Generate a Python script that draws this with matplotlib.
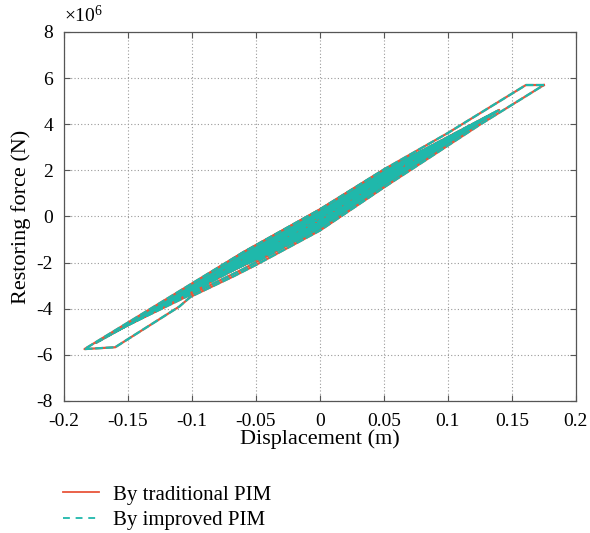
import numpy as np
import matplotlib
matplotlib.use('Agg')
import matplotlib.pyplot as plt
from matplotlib.lines import Line2D

plt.rcParams['font.family'] = ['Liberation Serif', 'DejaVu Serif']
plt.rcParams['mathtext.default'] = 'regular'
plt.rcParams['axes.unicode_minus'] = False

# --- Data ---
# forces are in units of 1e6 N, displacements in m
# inner cycles: positive peak, negative peak, and where each branch crosses
# displacement -0.06, 0 and 0.05 (upper = unloading branch, lower = reloading)
pos_peak_x = [0.06, 0.09, 0.11, 0.13, 0.14, 0.12, 0.135, 0.10, 0.115, 0.125, 0.08, 0.06]
pos_peak_f = [1.98, 2.97, 3.63, 4.29, 4.62, 3.96, 4.46, 3.30, 3.80, 4.13, 2.64, 1.98]
neg_peak_x = [-0.07, -0.10, -0.12, -0.14, -0.165, -0.175, -0.16, -0.13, -0.15, -0.12, -0.09, -0.06]
neg_peak_f = [-2.14, -3.00, -3.66, -4.32, -5.15, -5.48, -4.98, -3.99, -4.65, -3.66, -2.71, -1.85]
cross_x = [-0.06, 0.0, 0.05]
upper_f = [[-1.73, 0.05, 1.80], [-1.63, 0.20, 1.90], [-1.58, 0.28, 2.00],
           [-1.68, 0.15, 1.88], [-1.61, 0.25, 1.98], [-1.78, 0.00, 1.75],
           [-1.65, 0.22, 1.95], [-1.75, 0.08, 1.83], [-1.56, 0.30, 2.02],
           [-1.71, 0.10, 1.85], [-1.81, -0.05, 1.72], [-1.83, -0.10, 1.70]]
lower_f = [[-1.98, -0.30, 1.50], [-2.08, -0.45, 1.38], [-2.13, -0.55, 1.30],
           [-2.03, -0.40, 1.42], [-2.11, -0.58, 1.28], [-1.93, -0.25, 1.55],
           [-2.28, -0.50, 1.35], [-2.01, -0.35, 1.46], [-2.06, -0.52, 1.32],
           [-1.96, -0.20, 1.58], [-1.89, -0.28, 1.52], [-1.88, -0.18, 1.60]]

# outermost loop, traced vertex by vertex
outer_disp = [0.175, 0.161, 0.10, 0.05, 0.0, -0.06, -0.184, -0.160, -0.110, -0.101,
              -0.067, -0.05, 0.0, 0.05, 0.125, 0.175]
outer_force = [5.70, 5.70, 3.62, 2.04, 0.31, -1.55, -5.75, -5.67, -3.91, -3.48,
               -2.58, -2.10, -0.61, 1.26, 3.98, 5.70]

x_ticks = [-0.2, -0.15, -0.1, -0.05, 0, 0.05, 0.1, 0.15, 0.2]
x_tick_labels = ['-0.2', '-0.15', '-0.1', '-0.05', '0', '0.05', '0.1', '0.15', '0.2']
y_ticks = [-8, -6, -4, -2, 0, 2, 4, 6, 8]

RED = '#E8553A'
TEAL = '#1FB8AB'

# chain the inner cycles into one path
path_x, path_f = [0.0], [0.0]
for i in range(len(pos_peak_x)):
    path_x += [pos_peak_x[i]] + cross_x[::-1] + [neg_peak_x[i]] + cross_x
    path_f += [pos_peak_f[i]] + upper_f[i][::-1] + [neg_peak_f[i]] + lower_f[i]

fig = plt.figure(figsize=(5.9, 5.33), dpi=100)
ax = fig.add_axes([0.1085, 0.2477, 0.8675, 0.6923])

dash = (0, (3.5, 1.2))
for xs, fs in [(path_x, path_f), (outer_disp, outer_force)]:
    ax.plot(xs, fs, color=RED, linewidth=1.6)
    ax.plot(xs, fs, color=TEAL, linewidth=1.6, linestyle=dash)

ax.set_xlim(-0.2, 0.2)
ax.set_ylim(-8, 8)
ax.set_xticks(x_ticks)
ax.set_xticklabels(x_tick_labels)
ax.set_yticks(y_ticks)
ax.tick_params(direction='in', top=True, right=True, length=4, labelsize=14,
               color='#555555')
ax.tick_params(axis='y', pad=8)
ax.tick_params(axis='x', pad=9)
for s in ax.spines.values():
    s.set_color('#555555')
    s.set_linewidth(0.9)
ax.grid(True, linestyle=(0, (1, 2)), color='#999999', linewidth=0.8)
ax.set_axisbelow(True)

ax.set_xlabel('Displacement (m)', fontsize=16, labelpad=-1)
ax.set_ylabel('Restoring force (N)', fontsize=16, labelpad=4)
ax.text(0.0, 1.015, r'$\times$10$^{6}$', transform=ax.transAxes, fontsize=14,
        ha='left', va='bottom')

handles = [Line2D([], [], color=RED, linewidth=1.3),
           Line2D([], [], color=TEAL, linewidth=1.3, linestyle=(0, (3.8, 3.2)))]
fig.legend(handles, ['By traditional PIM', 'By improved PIM'], loc='upper left',
           bbox_to_anchor=(0.107, 0.09), frameon=False, fontsize=15,
           handlelength=1.7, handletextpad=0.7, labelspacing=0.3,
           borderaxespad=0, borderpad=0)

fig.savefig('out.png', dpi=100)
